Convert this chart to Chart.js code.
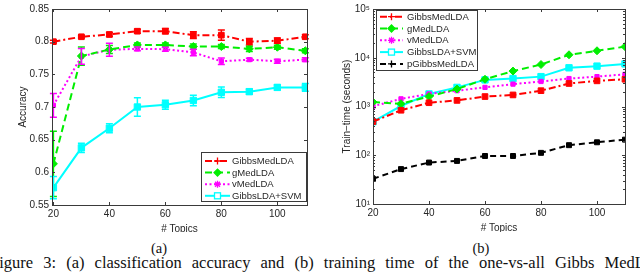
<!DOCTYPE html>
<html><head><meta charset="utf-8">
<script src="https://cdn.jsdelivr.net/npm/chart.js@4/dist/chart.umd.min.js"></script>
<style>
html,body{margin:0;padding:0;background:#fff;width:640px;height:273px;overflow:hidden;position:relative}
canvas{position:absolute;top:0}
#ca{left:0}
#cb{left:320px}
.sub{position:absolute;top:240px;font:14.5px "Liberation Serif",serif;color:#111;width:60px;text-align:center;line-height:16px}
.cap{position:absolute;left:-10px;top:255px;font:16.5px "Liberation Serif",serif;color:#111;white-space:nowrap;line-height:16px;word-spacing:6px}
</style></head>
<body>
<canvas id="ca" width="320" height="232"></canvas>
<canvas id="cb" width="320" height="232"></canvas>
<div class="sub" style="left:129px">(a)</div>
<div class="sub" style="left:451px">(b)</div>
<div class="cap">Figure 3: (a) classification accuracy and (b) training time of the one-vs-all Gibbs MedLDA and other models</div>
<script>
// ---------- data ----------
const topics = [20,30,40,50,60,70,80,90,100,110];
const seriesNames = ['GibbsMedLDA','gMedLDA','vMedLDA','GibbsLDA+SVM','pGibbsMedLDA'];

const accGibbsMedLDA = [0.800,0.8075,0.811,0.816,0.816,0.810,0.810,0.800,0.8015,0.8075];
const errGibbsMedLDA = [0.002,0.002,0.003,0.003,0.004,0.005,0.008,0.005,0.004,0.003];
const accGMedLDA     = [0.613,0.778,0.788,0.795,0.795,0.7925,0.7925,0.789,0.7915,0.786];
const errGMedLDA     = [0.050,0.014,0.006,0.003,0.003,0.004,0.003,0.004,0.003,0.003];
const accVMedLDA     = [0.7025,0.7775,0.7875,0.789,0.7885,0.7835,0.770,0.7725,0.770,0.7725];
const errVMedLDA     = [0.018,0.012,0.010,0.003,0.003,0.005,0.005,0.002,0.003,0.003];
const accGibbsLDASVM = [0.5765,0.6375,0.6675,0.700,0.7035,0.710,0.7225,0.7235,0.730,0.730];
const errGibbsLDASVM = [0.017,0.007,0.007,0.014,0.007,0.008,0.008,0.004,0.004,0.006];

const timeGibbsMedLDA  = [490,838,1195,1333,1600,1727,2113,2965,3359,3622];
const timeGMedLDA      = [1230,1140,1600,2280,3620,5330,7260,11500,13900,16900];
const timeVMedLDA      = [1010,1435,1810,2113,2466,2878,3260,3740,4100,4570];
const timeGibbsLDASVM  = [488,1023,1810,2466,3515,3740,4100,6220,6730,7480];
const timePGibbsMedLDA = [32.8,52,70.8,76.5,96.6,96.6,112,161,184.5,209];

const xTicks = [20,40,60,80,100];
const accTicks = [0.55,0.6,0.65,0.7,0.75,0.8,0.85];
const timeTicks = [10,100,1000,10000,100000];
const timeTickLabels = ['10¹','10²','10³','10⁴','10⁵'];

// ---------- styles ----------
const FONT = '"Liberation Sans", Arial, sans-serif';
const TXT = '#262626';
const styles = [
  {borderColor:'#ff0000', borderDash:[7,3,2,3], pointStyle:'rect', pointRadius:4, legendStyle:'cross'},
  {borderColor:'#00ee00', borderDash:[7,4], pointStyle:'rectRot', pointRadius:4, legendStyle:'rectRot'},
  {borderColor:'#ff00ff', borderDash:[2,2.5], pointStyle:'rect', pointRadius:3, legendStyle:'star'},
  {borderColor:'#00ffff', borderDash:[], pointStyle:'rect', pointRadius:4.5, legendStyle:'rectOpen'},
  {borderColor:'#000000', borderDash:[6,4], pointStyle:'rect', pointRadius:3.5, legendStyle:'cross'}
];

function mkDs(i, vals, errs){
  const s = styles[i];
  return {
    label: seriesNames[i],
    data: topics.map((t,j)=>({x:t, y:vals[j]})),
    errorBars: errs || null,
    borderColor: s.borderColor, backgroundColor: s.borderColor,
    borderWidth: 2, borderDash: s.borderDash,
    pointStyle: s.pointStyle, pointRadius: s.pointRadius,
    pointBackgroundColor: s.borderColor, pointBorderColor: s.borderColor, pointBorderWidth: 1,
    legendStyle: s.legendStyle,
    tension: 0, fill: false
  };
}

const matlabPlugin = {
  id: 'matlab',
  afterDatasetsDraw(chart){
    const ctx = chart.ctx, xs = chart.scales.x, ys = chart.scales.y;
    chart.data.datasets.forEach(ds=>{
      if(!ds.errorBars) return;
      ctx.save();
      ctx.strokeStyle = ds.borderColor; ctx.lineWidth = 1.5; ctx.setLineDash([]);
      ds.data.forEach((p,j)=>{
        const e = ds.errorBars[j];
        const x = xs.getPixelForValue(p.x);
        const y1 = ys.getPixelForValue(p.y - e), y2 = ys.getPixelForValue(p.y + e);
        ctx.beginPath();
        ctx.moveTo(x, y1); ctx.lineTo(x, y2);
        ctx.moveTo(x-3.5, y1); ctx.lineTo(x+3.5, y1);
        ctx.moveTo(x-3.5, y2); ctx.lineTo(x+3.5, y2);
        ctx.stroke();
      });
      ctx.restore();
    });
  },
  afterDraw(chart, args, opts){
    const ctx = chart.ctx, a = chart.chartArea, xs = chart.scales.x, ys = chart.scales.y;
    ctx.save();
    ctx.strokeStyle = '#3a3a3a'; ctx.lineWidth = 1; ctx.setLineDash([]);
    ctx.beginPath();
    xs.ticks.forEach(t=>{
      const x = Math.round(xs.getPixelForValue(t.value))+0.5;
      ctx.moveTo(x, a.bottom); ctx.lineTo(x, a.bottom-3);
      ctx.moveTo(x, a.top); ctx.lineTo(x, a.top+3);
    });
    ys.ticks.forEach(t=>{
      const y = Math.round(ys.getPixelForValue(t.value))+0.5;
      ctx.moveTo(a.left, y); ctx.lineTo(a.left+3, y);
      ctx.moveTo(a.right, y); ctx.lineTo(a.right-3, y);
    });
    if (ys.type === 'logarithmic') {
      for (let d = 10; d < ys.max; d *= 10) {
        for (let k = 2; k <= 9; k++) {
          const y = Math.round(ys.getPixelForValue(k*d))+0.5;
          ctx.moveTo(a.left, y); ctx.lineTo(a.left+2, y);
          ctx.moveTo(a.right, y); ctx.lineTo(a.right-2, y);
        }
      }
    }
    ctx.stroke();
    ctx.strokeRect(Math.round(a.left)+0.5, Math.round(a.top)+0.5, Math.round(a.right-a.left), Math.round(a.bottom-a.top));
    // legend
    const L = opts.legend;
    ctx.fillStyle = '#fff';
    ctx.fillRect(L.x, L.y, L.w, L.h);
    ctx.strokeStyle = '#3a3a3a';
    ctx.strokeRect(L.x+0.5, L.y+0.5, L.w, L.h);
    chart.data.datasets.forEach((ds,i)=>{
      const y = L.y0 + i*L.dy;
      ctx.strokeStyle = ds.borderColor; ctx.lineWidth = 2; ctx.setLineDash(ds.borderDash);
      ctx.beginPath(); ctx.moveTo(L.l0, y); ctx.lineTo(L.l1, y); ctx.stroke();
      ctx.setLineDash([]);
      const cx = (L.l0+L.l1)/2;
      ctx.lineWidth = 1.3; ctx.fillStyle = ds.borderColor;
      if (ds.legendStyle === 'rectOpen') {
        ctx.fillStyle = '#fff';
        ctx.fillRect(cx-3, y-3, 6, 6); ctx.strokeRect(cx-3, y-3, 6, 6);
      } else {
        Chart.helpers.drawPoint(ctx, {pointStyle: ds.legendStyle, radius: 3.5, borderWidth: 1.3, rotation: 0}, cx, y);
      }
      ctx.fillStyle = TXT; ctx.font = '9.5px ' + FONT; ctx.textBaseline = 'middle'; ctx.textAlign = 'left';
      ctx.fillText(ds.label, L.tx, y+0.5);
    });
    ctx.restore();
  }
};

function baseOptions(cfg){
  return {
    responsive: false, animation: false,
    layout: {padding: {left: 0, top: cfg.top, right: cfg.right, bottom: 0}},
    plugins: {legend: {display: false}, tooltip: {enabled: false}, matlab: {legend: cfg.legend}},
    scales: {
      x: {
        type: 'linear', min: cfg.xmin, max: cfg.xmax,
        afterBuildTicks: s => { s.ticks = xTicks.map(v=>({value:v})); },
        afterFit: s => { s.height = cfg.xh; },
        grid: {display: false, drawTicks: false},
        border: {display: false},
        ticks: {color: TXT, font: {family: FONT, size: 10}, padding: 3, maxRotation: 0, autoSkip: false},
        title: {display: true, text: '# Topics', color: TXT, font: {family: FONT, size: 10}, padding: {top: 0, bottom: cfg.xtb}}
      },
      y: Object.assign({
        afterFit: s => { s.width = cfg.yw; },
        grid: {display: false, drawTicks: false},
        border: {display: false},
        ticks: {color: TXT, font: {family: FONT, size: 10}, padding: 3, autoSkip: false},
        title: {display: true, text: cfg.ytitle, color: TXT, font: {family: FONT, size: 10}, padding: {top: cfg.ytp, bottom: 0}}
      }, cfg.y)
    }
  };
}

new Chart(document.getElementById('ca'), {
  type: 'line',
  data: {datasets: [
    mkDs(0, accGibbsMedLDA, errGibbsMedLDA),
    mkDs(1, accGMedLDA, errGMedLDA),
    mkDs(2, accVMedLDA, errVMedLDA),
    mkDs(3, accGibbsLDASVM, errGibbsLDASVM)
  ]},
  options: baseOptions({
    top: 4, right: 13, xh: 27, xtb: -3, yw: 52, xmin: 19.5, xmax: 110.6, ytitle: 'Accuracy', ytp: 17,
    y: {type: 'linear', min: 0.55, max: 0.85,
        afterBuildTicks: s => { s.ticks = accTicks.map(v=>({value:v})); },
        ticks: {color: TXT, font: {family: FONT, size: 10}, padding: 3, autoSkip: false, callback: v => String(v)}},
    legend: {x: 201, y: 152, w: 105, h: 49, y0: 161, dy: 11.6, l0: 205, l1: 230, tx: 232}
  }),
  plugins: [matlabPlugin]
});

new Chart(document.getElementById('cb'), {
  type: 'line',
  data: {datasets: [
    mkDs(0, timeGibbsMedLDA),
    mkDs(1, timeGMedLDA),
    mkDs(2, timeVMedLDA),
    mkDs(3, timeGibbsLDASVM),
    mkDs(4, timePGibbsMedLDA)
  ]},
  options: baseOptions({
    top: 5, right: 15, xh: 28, xtb: -2, yw: 53, xmin: 20, xmax: 110, ytitle: 'Train−time (seconds)', ytp: 21,
    y: {type: 'logarithmic', min: 10, max: 100000,
        afterBuildTicks: s => { s.ticks = timeTicks.map(v=>({value:v})); },
        ticks: {color: TXT, font: {family: FONT, size: 10}, padding: 3, autoSkip: false,
                callback: (v) => { const i = timeTicks.indexOf(v); return i >= 0 ? timeTickLabels[i] : ''; }}},
    legend: {x: 56, y: 10, w: 101, h: 60, y0: 16.7, dy: 11.8, l0: 60, l1: 83, tx: 87}
  }),
  plugins: [matlabPlugin]
});
</script>
</body></html>
